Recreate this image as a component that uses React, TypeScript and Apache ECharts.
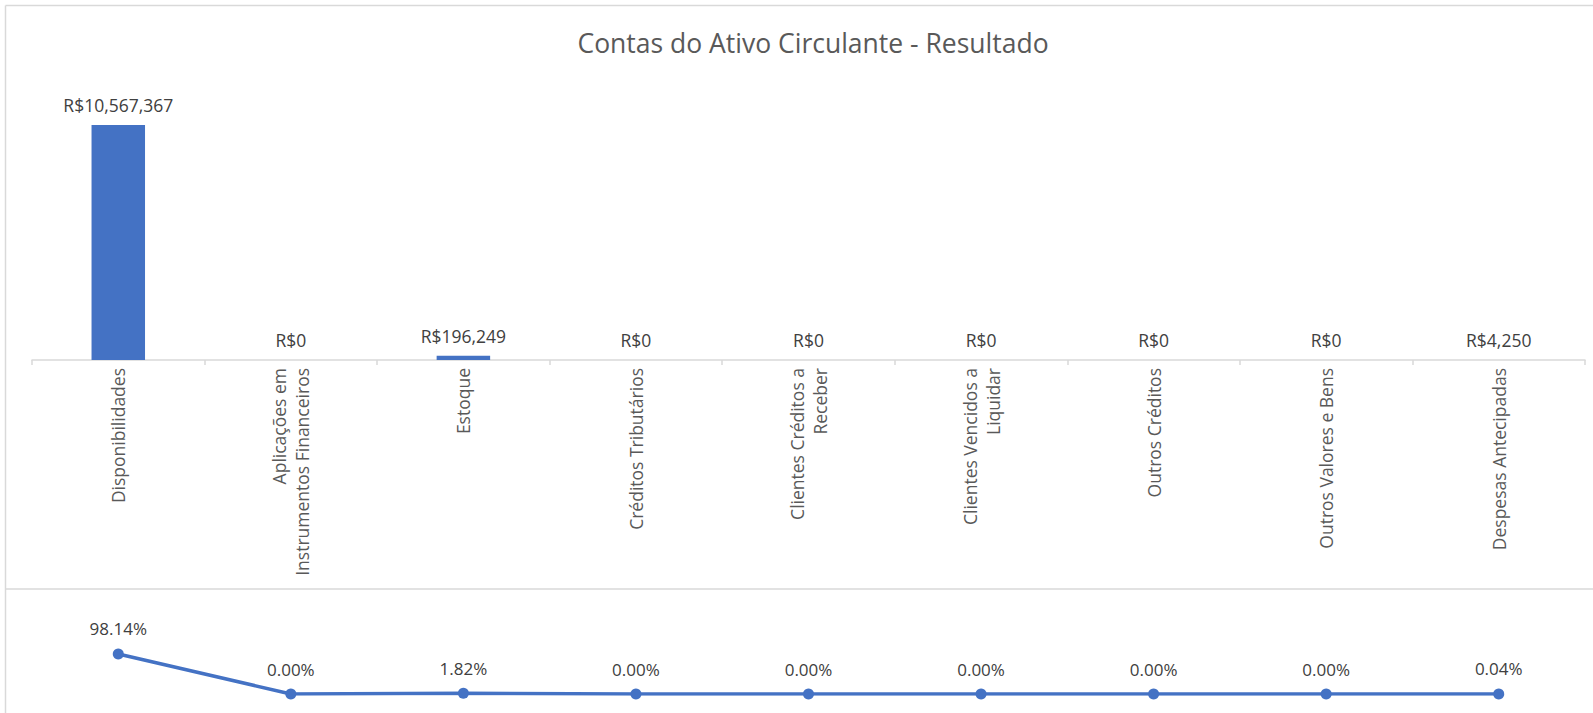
import React, { useEffect, useRef } from "react";
import * as echarts from "echarts";

const categories = [
  "Disponibilidades",
  "Aplicações em\nInstrumentos Financeiros",
  "Estoque",
  "Créditos Tributários",
  "Clientes Créditos a\nReceber",
  "Clientes Vencidos a\nLiquidar",
  "Outros Créditos",
  "Outros Valores e Bens",
  "Despesas Antecipadas",
];
const values = [10567367, 0, 196249, 0, 0, 0, 0, 0, 4250];
const percentages = [98.14, 0.0, 1.82, 0.0, 0.0, 0.0, 0.0, 0.0, 0.04];
const titleText = "Contas do Ativo Circulante - Resultado";

const BLUE = "#4472C4";
const GRAY = "#d9d9d9";
const FONT = "'Open Sans', sans-serif";

export default function App() {
  const ref = useRef<HTMLDivElement>(null);
  useEffect(() => {
    if (!ref.current) return;
    const chart = echarts.init(ref.current, null, { renderer: "svg" });
    chart.setOption({
      animation: false,
      backgroundColor: "#ffffff",
      textStyle: { fontFamily: FONT },
      title: {
        text: titleText,
        left: 808,
        top: 24,
        textAlign: "center",
        textStyle: { fontSize: 26.5, fontWeight: "normal", color: "#595959", fontFamily: FONT },
      },
      graphic: [
        { type: "line", shape: { x1: 5.5, y1: 5.5, x2: 1593, y2: 5.5 }, style: { stroke: GRAY, lineWidth: 1.5 } },
        { type: "line", shape: { x1: 5.5, y1: 5.5, x2: 5.5, y2: 713 }, style: { stroke: GRAY, lineWidth: 1.5 } },
        { type: "line", shape: { x1: 5.5, y1: 589, x2: 1593, y2: 589 }, style: { stroke: GRAY, lineWidth: 1.5 } },
      ],
      grid: [
        { left: 32, right: 8, top: 93, height: 267, containLabel: false },
        { left: 32, right: 8, top: 653.2, height: 40.8, containLabel: false },
      ],
      xAxis: [
        {
          type: "category",
          gridIndex: 0,
          data: categories,
          axisLine: { lineStyle: { color: GRAY, width: 1.5 } },
          axisTick: { show: true, length: 5, lineStyle: { color: GRAY, width: 1.5 } },
          axisLabel: {
            rotate: 90,
            interval: 0,
            margin: 8,
            fontSize: 17.5,
            color: "#595959",
            fontFamily: FONT,
            lineHeight: 23,
          },
        },
        {
          type: "category",
          gridIndex: 1,
          data: categories,
          show: false,
        },
      ],
      yAxis: [
        { type: "value", gridIndex: 0, min: 0, max: 12000000, show: false },
        { type: "value", gridIndex: 1, min: 0, max: 100, show: false },
      ],
      series: [
        {
          type: "bar",
          xAxisIndex: 0,
          yAxisIndex: 0,
          data: values,
          barWidth: "31%",
          itemStyle: { color: BLUE },
          label: {
            show: true,
            position: "top",
            distance: 11,
            fontSize: 17.5,
            color: "#404040",
            fontFamily: FONT,
            formatter: (p: any) => "R$" + Number(p.value).toLocaleString("en-US"),
          },
        },
        {
          type: "line",
          xAxisIndex: 1,
          yAxisIndex: 1,
          data: percentages,
          symbol: "circle",
          symbolSize: 11,
          lineStyle: { color: BLUE, width: 3.5 },
          itemStyle: { color: BLUE },
          label: {
            show: true,
            position: "top",
            distance: 11,
            fontSize: 17,
            color: "#404040",
            fontFamily: FONT,
            formatter: (p: any) => Number(p.value).toFixed(2) + "%",
          },
        },
      ],
    });
    return () => chart.dispose();
  }, []);
  return (
    <div
      ref={ref}
      style={{ position: "absolute", left: 0, top: 0, width: 1593, height: 713 }}
    />
  );
}
